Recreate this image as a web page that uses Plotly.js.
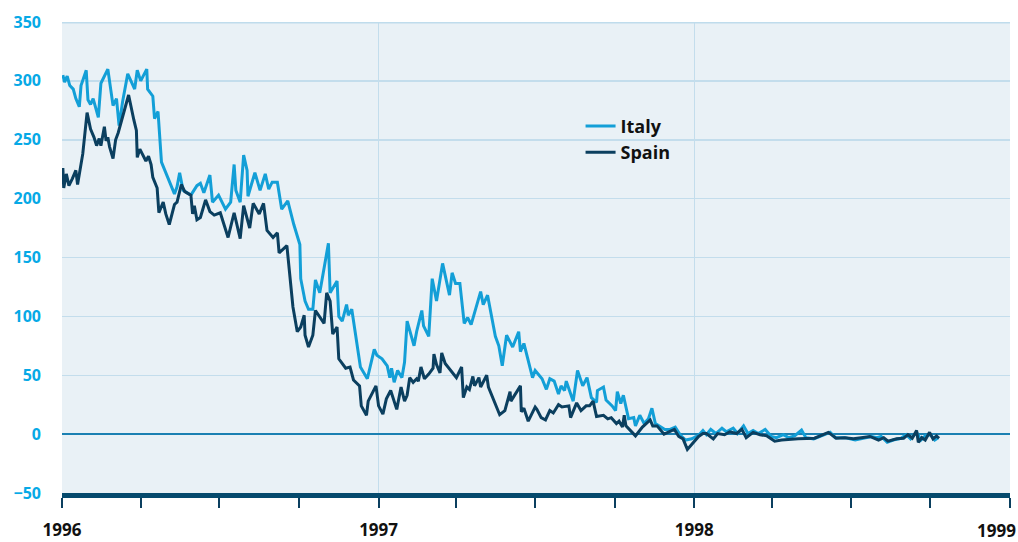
<!DOCTYPE html>
<html>
<head>
<meta charset="utf-8">
<script src="https://cdn.plot.ly/plotly-3.0.1.min.js"></script>
<style>html,body{margin:0;padding:0;background:#fff;}#chart{width:1018px;height:542px;}</style>
</head>
<body>
<div id="chart"></div>
<script>
// Days since 1996-01-01 and spread values (basis points)
const italyDays = [1,3,6,9,13,16,20,22,28,30,33,36,42,45,53,59,63,66,70,76,84,87,91,98,99,105,107,111,115,121,130,133,136,140,149,156,160,164,171,174,181,189,195,199,201,206,210,214,215,223,229,235,239,243,249,254,261,268,275,276,281,285,290,293,298,308,310,318,320,324,329,331,335,345,353,361,364,370,376,379,381,384,388,393,396,399,407,410,416,418,424,428,433,440,448,451,455,460,463,465,469,473,484,487,492,501,505,509,514,521,528,530,534,544,547,555,560,564,569,574,577,581,583,591,596,602,607,612,618,619,626,629,636,640,642,646,649,655,661,663,668,673,678,682,686,691,697,703,709,715,721,728,736,741,745,750,756,763,768,776,781,788,793,799,805,813,820,826,834,840,847,855,860,869,878,888,894,905,917,924,936,942,947,954,961,970,976,981,988,993,998,1004,1009,1013];
const italyValues = [305,299,304,296,293,285,278,296,309,284,280,285,269,298,310,279,285,262,282,306,293,309,300,310,293,287,268,274,231,220,204,210,222,207,203,211,213,205,220,197,203,191,197,229,207,197,237,224,202,222,207,221,208,214,214,191,198,178,161,132,113,106,106,131,120,162,120,130,100,96,110,101,106,57,47,72,67,64,58,48,56,44,54,48,61,96,75,87,105,92,83,132,113,145,118,137,128,128,110,94,99,93,121,110,118,83,75,58,84,74,87,70,77,48,54,47,38,47,45,34,41,37,45,28,54,41,48,31,27,37,40,29,24,20,36,26,33,13,14,7,16,9,13,22,9,7,4,4,6,-1,-5,-4,-1,3,-0.5,4,0.5,5,2,5,0.5,7,0.5,3,0.5,4,-2,-3,-0.5,-3,-1.5,3.5,-3,-4,-1.5,1.5,-3,-3,-5,-4,-2,-3,-2,-7,-5,-3.5,-0.5,-4,1.5,-5,-1.5,-0.5,-5,-3];

const spainDays = [1,2,5,8,12,16,18,22,24,29,33,37,40,43,45,49,51,53,55,59,62,65,70,77,83,86,87,90,97,100,103,105,110,112,117,120,124,127,130,133,138,142,149,151,153,156,160,166,171,176,183,192,199,206,210,217,221,228,233,237,244,249,251,260,267,272,276,280,281,285,290,293,303,306,310,313,318,320,328,333,337,344,346,352,354,363,366,371,375,380,387,392,396,399,402,406,410,412,415,419,424,429,430,433,437,439,443,456,462,464,468,471,475,477,482,484,491,493,506,512,518,519,530,531,534,539,547,549,554,559,564,568,574,578,586,588,595,600,606,610,614,618,626,631,635,641,644,648,650,652,663,671,680,683,688,696,703,708,713,718,723,730,736,741,745,753,758,766,772,780,786,791,799,807,815,824,832,851,870,886,895,905,915,924,934,944,950,955,965,973,978,983,988,990,994,998,1003,1007,1011,1014];
const spainValues = [226,209,221,211,217,224,212,229,238,273,259,252,245,251,245,261,249,252,244,234,250,256,269,288,267,258,235,242,232,236,229,218,209,188,197,187,178,187,195,197,212,206,203,187,194,182,184,199,189,186,188,167,188,166,194,175,196,187,196,173,167,171,154,160,108,87,91,101,84,74,84,105,94,120,113,85,91,64,56,57,46,41,24,16,28,41,24,17,30,37,21,40,28,33,48,44,47,45,57,47,51,56,68,59,52,69,60,48,57,31,40,38,49,41,48,40,50,40,16.5,20,36,28,41,19,22,11,23,21,14,12,20,18,25,23,24,14,26.5,20,24,24,28,15,16,13,14,9,11,6,16,7,-1.5,6,12,7,7,0,2,4,-2,-4,-13,-7,-2,0.5,0.5,-4,0.5,-0.5,2,0.5,4,-3,1.5,-0.5,-1.5,-6,-5,-4,-3.5,1.5,-3.5,-3,-4,-3,-2,-5,-3,-6,-4,-3.5,-0.5,-3.5,3,-7,-3,-5,1.5,-4,-1.5,-3.5];

const yearTicks = ['1996-01-01','1997-01-01','1998-01-01'];
const yearLabels = ['1996','1997','1998'];
const lastYear = '1999-01-01';
const lastYearLabel = '1999';

const seriesNames = ['Italy','Spain'];

function toDate(d){
  const t = Date.UTC(1996,0,1) + d*86400000;
  return new Date(t).toISOString().slice(0,10);
}

const FONT = 'Open Sans, Liberation Sans, sans-serif';

const traces = [
  {x: italyDays.map(toDate), y: italyValues, name: seriesNames[0], type:'scatter', mode:'lines',
   line:{color:'#139fd7', width:3}},
  {x: spainDays.map(toDate), y: spainValues, name: seriesNames[1], type:'scatter', mode:'lines',
   line:{color:'#0b3f5f', width:3}}
];

const layout = {
  width:1018, height:542,
  margin:{l:62, r:8, t:22, b:49},
  paper_bgcolor:'#ffffff',
  plot_bgcolor:'#e9f1f6',
  showlegend:true,
  legend:{x:0.547, y:0.818, xanchor:'left', yanchor:'top', bgcolor:'rgba(0,0,0,0)',
          font:{family:FONT, size:18, color:'#111', weight:700}, traceorder:'normal'},
  xaxis:{
    type:'date',
    range:['1996-01-01','1999-01-01'],
    tickvals: yearTicks, ticktext: yearLabels,
    ticks:'outside', ticklen:10, tickwidth:2, tickcolor:'#0b3f5f',
    showgrid:true, gridcolor:'#c3ddec', gridwidth:1,
    showline:true, linecolor:'#054a6d', linewidth:5,
    tickfont:{family:FONT, size:17, color:'#111', weight:700},
    ticklabelstandoff:8,
    minor:{dtick:'M3', tick0:'1996-01-01', ticks:'outside', ticklen:10, tickwidth:2, tickcolor:'#0b3f5f', showgrid:false},
    zeroline:false
  },
  yaxis:{
    range:[-50,350],
    dtick:50, tick0:0,
    showgrid:true, gridcolor:'#c3ddec', gridwidth:1.5,
    zeroline:true, zerolinecolor:'#1b80b2', zerolinewidth:2.5,
    showline:false, ticks:'',
    tickfont:{family:FONT, size:16, color:'#06a9e6', weight:700},
    ticklabelstandoff:20
  },
  shapes:[
    {type:'line', xref:'paper', yref:'y', x0:0, x1:1, y0:350, y1:350, line:{color:'#bfdcec', width:3}}
  ],
  annotations:[
    {x:lastYear, xref:'x', yref:'paper', y:0, yshift:-24, xanchor:'right', yanchor:'top', xshift:8,
     text:lastYearLabel, showarrow:false, font:{family:FONT, size:17, color:'#111', weight:700}}
  ]
};

Plotly.newPlot('chart', traces, layout, {displayModeBar:false, staticPlot:true});
</script>
</body>
</html>
